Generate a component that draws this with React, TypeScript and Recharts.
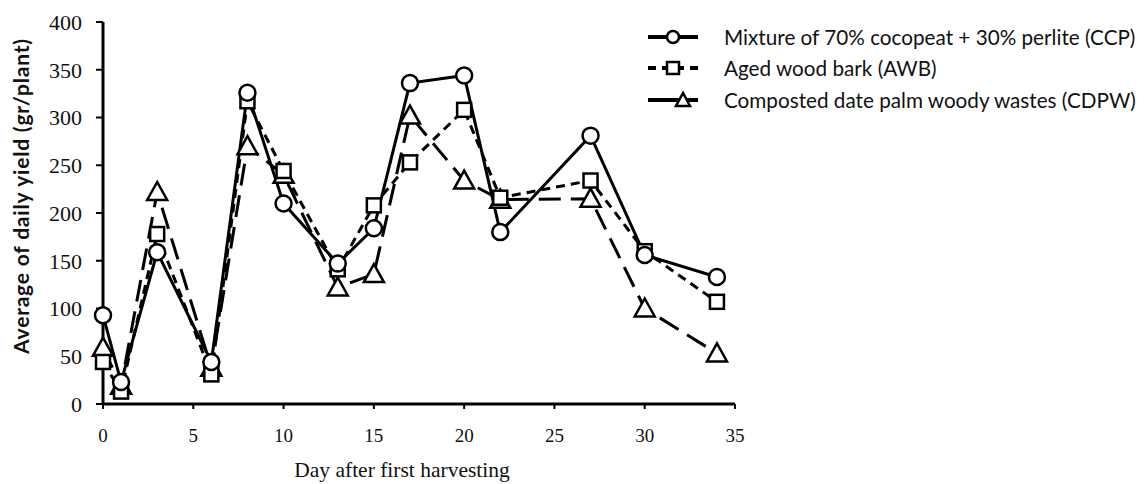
import { Line, LineChart, XAxis, YAxis } from "recharts";

const days = [0, 1, 3, 6, 8, 10, 13, 15, 17, 20, 22, 27, 30, 34];
const ccp = [93, 23, 159, 44, 326, 210, 147, 184, 336, 344, 180, 281, 156, 133];
const awb = [44, 13, 178, 31, 317, 244, 141, 208, 253, 308, 216, 234, 160, 107];
const cdpw = [59, 19, 222, 38, 270, 240, 122, 136, 302, 234, 214, 215, 100, 53];
const xTicks = [0, 5, 10, 15, 20, 25, 30, 35];
const yTicks = [0, 50, 100, 150, 200, 250, 300, 350, 400];

const seriesNames = [
  "Mixture of 70% cocopeat + 30% perlite (CCP)",
  "Aged wood bark (AWB)",
  "Composted date palm woody wastes (CDPW)",
];

const data = days.map((d, i) => ({ day: d, ccp: ccp[i], awb: awb[i], cdpw: cdpw[i] }));

const serif = "'Liberation Serif', 'Times New Roman', serif";
const sans = "Lato, 'Open Sans', sans-serif";

function CircleDot(props: any) {
  const { cx, cy } = props;
  if (cx == null || cy == null) return null;
  return <circle cx={cx} cy={cy} r={8} fill="#fff" stroke="#000" strokeWidth={2.5} />;
}

function SquareDot(props: any) {
  const { cx, cy } = props;
  if (cx == null || cy == null) return null;
  return <rect x={cx - 7} y={cy - 7} width={14} height={14} fill="#fff" stroke="#000" strokeWidth={2.5} />;
}

function TriangleDot(props: any) {
  const { cx, cy } = props;
  if (cx == null || cy == null) return null;
  return (
    <polygon
      points={`${cx},${cy - 10} ${cx - 10},${cy + 8} ${cx + 10},${cy + 8}`}
      fill="#fff"
      stroke="#000"
      strokeWidth={2.5}
    />
  );
}

function LegendBox() {
  const rows = [
    { dash: undefined, marker: "circle" },
    { dash: "8 6", marker: "square" },
    { dash: undefined, marker: "triangle" },
  ];
  return (
    <div style={{ position: "absolute", left: 646, top: 21, fontFamily: sans, fontSize: 20.7, color: "#111" }}>
      {rows.map((r, i) => (
        <div key={i} style={{ display: "flex", alignItems: "center", height: 31.5, whiteSpace: "nowrap" }}>
          <svg width={60} height={20} style={{ marginRight: 18 }}>
            <line x1={2} y1={10} x2={52} y2={10} stroke="#000" strokeWidth={4} strokeDasharray={r.dash} />
            {r.marker === "circle" && <circle cx={27} cy={10} r={6} fill="#fff" stroke="#000" strokeWidth={2.5} />}
            {r.marker === "square" && <rect x={21} y={4} width={12} height={12} fill="#fff" stroke="#000" strokeWidth={2.5} />}
            {r.marker === "triangle" && (
              <polygon points="37,3 30,16 44,16" fill="#fff" stroke="#000" strokeWidth={2.5} />
            )}
          </svg>
          <span>{seriesNames[i]}</span>
        </div>
      ))}
    </div>
  );
}

export default function App() {
  return (
    <div style={{ position: "absolute", left: 0, top: 0, width: 1146, height: 484, background: "#fff" }}>
      <LineChart width={1146} height={484} data={data} margin={{ top: 22, right: 411, bottom: 4, left: 0 }}>
        <XAxis
          dataKey="day"
          type="number"
          domain={[0, 35]}
          ticks={xTicks}
          height={76}
          stroke="#000"
          axisLine={{ strokeWidth: 3 }}
          tickLine={{ strokeWidth: 2 }}
          tickSize={5}
          tickMargin={20}
          tick={{ fontFamily: serif, fontSize: 19, fill: "#111" }}
          label={{
            content: () => (
              <text x={402} y={477} textAnchor="middle" fontFamily={serif} fontSize={21.5} fill="#111">
                Day after first harvesting
              </text>
            ),
          }}
        />
        <YAxis
          type="number"
          domain={[0, 400]}
          ticks={yTicks}
          width={103}
          stroke="#000"
          axisLine={{ strokeWidth: 3 }}
          tickLine={{ strokeWidth: 2 }}
          tickSize={7}
          tickMargin={14}
          tick={{ fontFamily: serif, fontSize: 22, fill: "#111" }}
          label={{
            content: () => (
              <text
                transform="translate(29,196) rotate(-90)"
                textAnchor="middle"
                fontFamily={sans}
                fontSize={21}
                fontWeight={700}
                letterSpacing={0.8}
                fill="#111"
              >
                Average of daily yield (gr/plant)
              </text>
            ),
          }}
        />
        <Line
          dataKey="cdpw"
          stroke="#000"
          strokeWidth={3}
          strokeDasharray="22 10"
          dot={<TriangleDot />}
          isAnimationActive={false}
        />
        <Line
          dataKey="awb"
          stroke="#000"
          strokeWidth={3}
          strokeDasharray="9 6"
          dot={<SquareDot />}
          isAnimationActive={false}
        />
        <Line
          dataKey="ccp"
          stroke="#000"
          strokeWidth={3}
          dot={<CircleDot />}
          isAnimationActive={false}
        />
      </LineChart>
      <LegendBox />
    </div>
  );
}
